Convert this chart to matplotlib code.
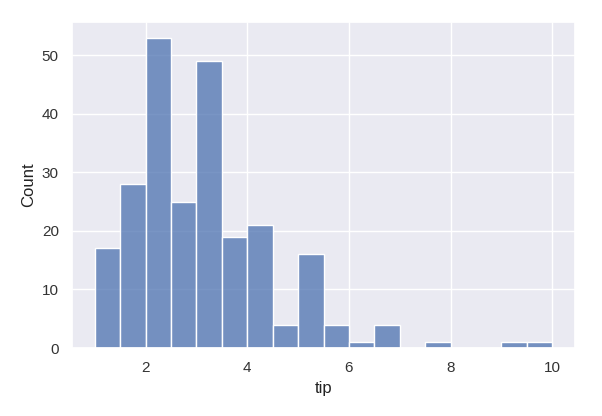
import matplotlib
matplotlib.use("Agg")
import matplotlib.pyplot as plt
import seaborn as sns
import numpy as np

bin_edges = [1.0, 1.5, 2.0, 2.5, 3.0, 3.5, 4.0, 4.5, 5.0, 5.5, 6.0, 6.5, 7.0, 7.5, 8.0, 8.5, 9.0, 9.5, 10.0]
counts = [17, 28, 53, 25, 49, 19, 21, 4, 16, 4, 1, 4, 0, 1, 0, 0, 1, 1]

sns.set_theme(style="darkgrid")
plt.rcParams['font.family'] = ['Liberation Sans', 'DejaVu Sans']
fig = plt.figure(figsize=(6.02, 4.16), dpi=100)
ax = fig.add_axes([72/602, 1-348/416, (575-72)/602, (348-22)/416])
centers = [(a + b) / 2 for a, b in zip(bin_edges[:-1], bin_edges[1:])]
sns.histplot(x=centers, weights=counts, bins=bin_edges, ax=ax)
ax.set_xlabel("tip")
ax.set_ylabel("Count")
for t in ax.get_xticklabels() + ax.get_yticklabels():
    t.set_color("#333333")
ax.xaxis.label.set_color("#222222")
ax.yaxis.label.set_color("#222222")
fig.savefig("out.png", dpi=100)
